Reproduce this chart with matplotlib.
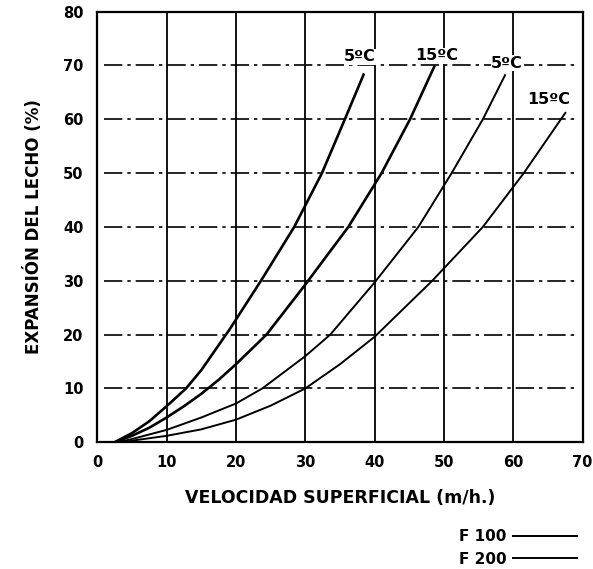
#!/usr/bin/env python3
"""Bed expansion vs. superficial velocity for F 100 / F 200 media."""

import matplotlib
matplotlib.use('Agg')
import matplotlib.pyplot as plt

# Curves: (velocity m/h, expansion %)
F100_5C_X = [2.5, 5, 7.5, 10, 12.8, 15, 19.1, 23.7, 28.4, 32.4, 35.7, 38.4]
F100_5C_Y = [0, 1.7, 3.9, 6.7, 10.0, 13.4, 21.0, 30.2, 40.0, 50.0, 60.0, 68.3]

F100_15C_X = [2.5, 5, 7.5, 10, 12.5, 15, 17.5, 20, 24.4, 30, 36.2, 41, 45.1, 48.6]
F100_15C_Y = [0, 1.2, 2.7, 4.6, 6.7, 9.0, 11.6, 14.5, 20.0, 29.3, 40.0, 50.0, 60.0, 69.8]

F200_5C_X = [3, 5, 10, 15, 20, 23.8, 30, 33.6, 40, 46.3, 51.1, 55.6, 58.8]
F200_5C_Y = [0, 0.6, 2.3, 4.6, 7.2, 10.0, 16.0, 20.0, 29.7, 40.0, 50.0, 60.0, 68.2]

F200_15C_X = [4, 5, 10, 15, 20, 25, 30, 35, 40, 48.3, 55.6, 61.5, 67.5]
F200_15C_Y = [0, 0.3, 1.2, 2.4, 4.2, 6.8, 10.0, 14.5, 19.6, 30.0, 40.0, 50.0, 61.2]

# Temperature labels next to each curve end
LABELS = ['5\u00baC', '15\u00baC', '5\u00baC', '15\u00baC']
LABEL_POS = [(37.9, 71.6), (49.0, 71.8), (59.1, 70.4), (65.1, 63.6)]

X_TICKS = [0, 10, 20, 30, 40, 50, 60, 70]
Y_TICKS = [0, 10, 20, 30, 40, 50, 60, 70, 80]

fig = plt.figure(figsize=(5.93, 5.69), dpi=100)
fig.patch.set_facecolor('white')
ax = fig.add_axes([0.164, 0.2227, 0.8186, 0.7568])

# Grid: solid verticals, dash-dot horizontals
ax.vlines(X_TICKS[1:-1], 0, 80, colors='black', linewidth=1.3, zorder=1)
ax.hlines(Y_TICKS[1:-1], 1.0, 69.2, colors='black', linewidth=1.2,
          linestyles=(0, (11, 3, 2, 3)), zorder=1)

ax.plot(F100_5C_X, F100_5C_Y, color='black', linewidth=1.9, label='F 100', zorder=3)
ax.plot(F100_15C_X, F100_15C_Y, color='black', linewidth=1.9, zorder=3)
ax.plot(F200_5C_X, F200_5C_Y, color='black', linewidth=1.4, label='F 200', zorder=3)
ax.plot(F200_15C_X, F200_15C_Y, color='black', linewidth=1.4, zorder=3)

for txt, (lx, ly) in zip(LABELS, LABEL_POS):
    ax.text(lx, ly, txt, ha='center', va='center', fontsize=11.5,
            fontweight='bold', color='black', zorder=4,
            bbox=dict(facecolor='white', edgecolor='none', pad=0.5))

ax.set_xlim(0, 70)
ax.set_ylim(0, 80)
ax.set_xticks(X_TICKS)
ax.set_yticks(Y_TICKS)
ax.tick_params(axis='x', length=0, pad=9, labelsize=10.5)
ax.tick_params(axis='y', length=0, pad=10, labelsize=10.5)
for lbl in ax.get_xticklabels() + ax.get_yticklabels():
    lbl.set_fontweight('bold')
for sp in ax.spines.values():
    sp.set_linewidth(1.6)

ax.set_xlabel('VELOCIDAD SUPERFICIAL (m/h.)', fontsize=12.5,
              fontweight='bold', labelpad=14)
ax.set_ylabel('EXPANSI\u00d3N DEL LECHO (%)', fontsize=12,
              fontweight='bold', labelpad=14)

leg = ax.legend(loc='upper right', bbox_to_anchor=(577 / 593, 1 - 529 / 569),
                bbox_transform=fig.transFigure, frameon=False, markerfirst=False,
                fontsize=11, handlelength=4.2, handletextpad=0.4,
                labelspacing=0.5, borderpad=0, borderaxespad=0)
for t in leg.get_texts():
    t.set_fontweight('bold')
for h in leg.get_lines():
    h.set_linewidth(1.4)

fig.savefig('out.png', dpi=100, facecolor='white')
